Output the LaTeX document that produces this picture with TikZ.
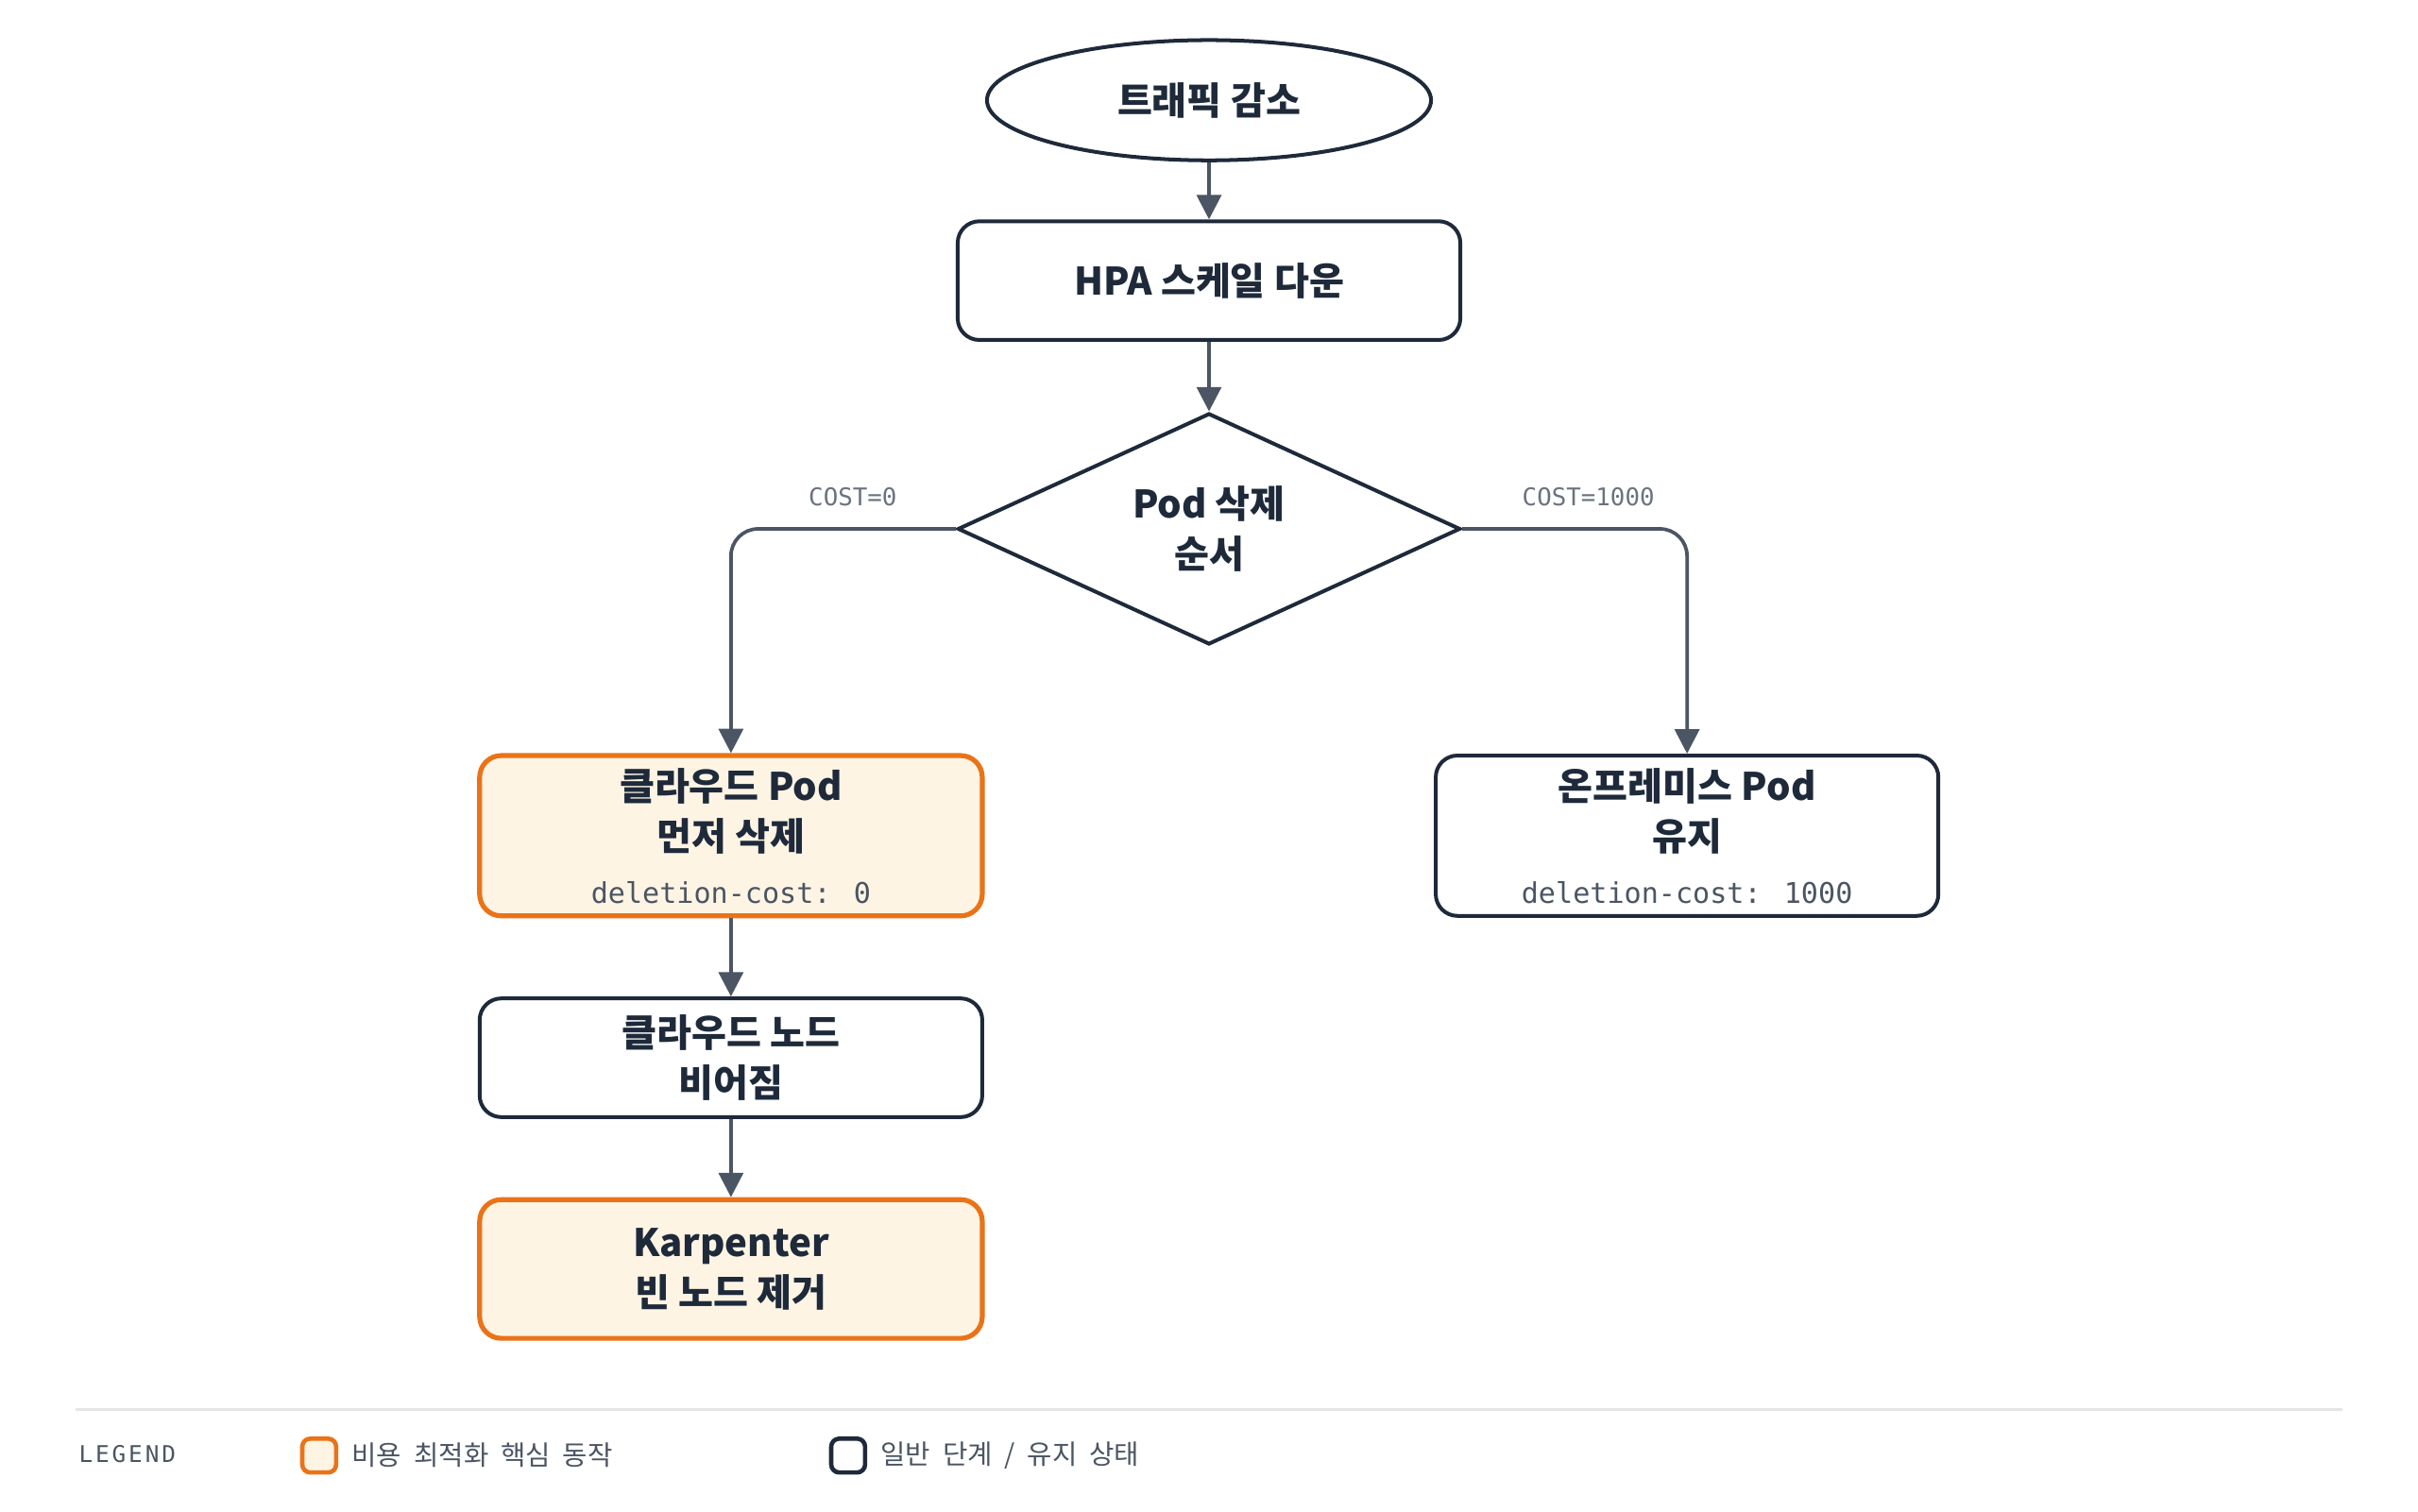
\documentclass[tikz,border=0pt]{standalone}
\usepackage{fontspec}
\setmainfont{Noto Sans CJK KR}
\newfontfamily\monof{DejaVu Sans Mono}
\usetikzlibrary{shapes.geometric, positioning, arrows.meta}
\definecolor{ink}{HTML}{1E2A3A}
\definecolor{arrowgray}{HTML}{4B5563}
\definecolor{note}{HTML}{6B7280}
\definecolor{hot}{HTML}{EA7317}
\definecolor{hotfill}{HTML}{FEF4E4}
\tikzset{
  stage/.style={draw=ink, line width=1.4pt, rounded corners=8pt, fill=white,
    minimum width=6.52cm, align=center, text=ink,
    font=\fontsize{14}{18.5}\selectfont\bfseries},
  core/.style={stage, draw=hot, fill=hotfill, line width=1.8pt},
  flow/.style={draw=arrowgray, line width=1.3pt, -{Triangle[length=9pt,width=9pt]}},
  tag/.style={text=note, font=\monof\fontsize{9}{11}\selectfont},
}
\newcommand{\cost}[1]{\\[1pt]{\monof\mdseries\fontsize{10.5}{14}\selectfont\color{arrowgray}#1}}
\begin{document}
\begin{tikzpicture}[x=0.02cm, y=-0.02cm]
\useasboundingbox (0,0) rectangle (1568,980);
\node[ellipse, draw=ink, line width=1.4pt, minimum width=5.76cm, minimum height=1.56cm,
  text=ink, font=\fontsize{14}{18.5}\selectfont\bfseries] (start) at (784,65) {트래픽 감소};
\node[stage, minimum height=1.54cm] (hpa) at (784,182) {HPA 스케일 다운};
\node[diamond, draw=ink, line width=1.4pt, fill=white, minimum width=6.52cm, minimum height=3cm,
  inner sep=0pt, aspect=2.17, align=center, text=ink,
  font=\fontsize{14}{18.5}\selectfont\bfseries] (order) at (784,343) {Pod 삭제\\순서};
\node[core, minimum height=2.08cm] (cloud) at (474,542) {클라우드 Pod\\먼저 삭제\cost{deletion-cost: 0}};
\node[stage, minimum height=2.08cm] (onprem) at (1094,542) {온프레미스 Pod\\유지\cost{deletion-cost: 1000}};
\node[stage, minimum height=1.54cm] (empty) at (474,686) {클라우드 노드\\비어짐};
\node[core, minimum height=1.8cm] (karp) at (474,823) {Karpenter\\빈 노드 제거};

\draw[flow] (start) -- (hpa);
\draw[flow] (hpa) -- (order.north);
\draw[flow, rounded corners=10pt] (order.west) -| (cloud.north);
\draw[flow, rounded corners=10pt] (order.east) -| (onprem.north);
\draw[flow] (cloud) -- (empty);
\draw[flow] (empty) -- (karp);
\node[tag] (c0) at (553,322) {COST=0};
\node[tag] (c1) at (1030,322) {COST=1000};

% legend
\draw[black!10, line width=1.2pt] (49,914) -- (1519,914);
\node[tag, anchor=west, font=\monof\fontsize{8.5}{10}\selectfont, text=arrowgray] (leg) at (45,943) {L\kern1pt E\kern1pt G\kern1pt E\kern1pt N\kern1pt D};
\node[draw=hot, fill=hotfill, line width=1.6pt, rounded corners=3pt, minimum size=0.44cm, inner sep=0pt] (k1) at (207,944) {};
\node[anchor=west, text=arrowgray, font=\fontsize{10}{12}\selectfont] (t1) at (222,944) {비용\ \ 최적화\ \ 핵심\ \ 동작};
\node[draw=ink, fill=white, line width=1.6pt, rounded corners=3pt, minimum size=0.44cm, inner sep=0pt] (k2) at (550,944) {};
\node[anchor=west, text=arrowgray, font=\fontsize{10}{12}\selectfont] (t2) at (565,944) {일반\ \ 단계\ \ /\ \ 유지\ \ 상태};
\end{tikzpicture}
\end{document}
